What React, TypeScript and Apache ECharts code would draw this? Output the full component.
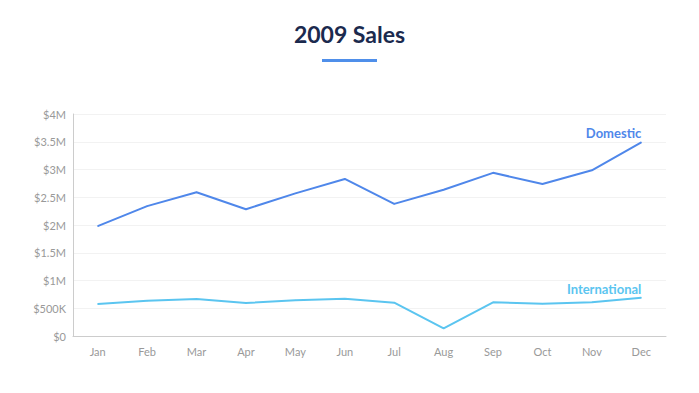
import React, { useEffect, useRef } from "react";
import * as echarts from "echarts";

const months = ["Jan", "Feb", "Mar", "Apr", "May", "Jun", "Jul", "Aug", "Sep", "Oct", "Nov", "Dec"];
const domestic = [1980000, 2340000, 2590000, 2285000, 2570000, 2830000, 2380000, 2635000, 2940000, 2740000, 2985000, 3490000];
const international = [577000, 636000, 667000, 594000, 642000, 673000, 600000, 138000, 607000, 583000, 607000, 690000];
const seriesNames = ["Domestic", "International"];
const seriesColors = ["#4f87ea", "#5bc5f0"];

function fmt(v: number): string {
  if (v === 0) return "$0";
  if (v >= 1000000) return "$" + v / 1000000 + "M";
  return "$" + v / 1000 + "K";
}

function lastLabeled(values: number[], name: string, color: string) {
  return values.map((v, i) =>
    i === values.length - 1
      ? {
          value: v,
          label: {
            show: true,
            position: "top",
            align: "right",
            distance: 2,
            formatter: name,
            color,
            fontFamily: "Lato",
            fontWeight: "bold",
            fontSize: 13,
          },
        }
      : v
  );
}

export default function App() {
  const ref = useRef<HTMLDivElement>(null);
  useEffect(() => {
    if (!ref.current) return;
    const chart = echarts.init(ref.current, null, { renderer: "svg" });
    chart.setOption({
      animation: false,
      backgroundColor: "#ffffff",
      title: {
        text: "2009 Sales",
        left: "center",
        top: 17,
        textStyle: { fontFamily: "Lato", fontSize: 23, fontWeight: "bold", color: "#1b2a4e" },
      },
      graphic: [
        { type: "rect", shape: { x: 322, y: 59, width: 55, height: 3 }, style: { fill: "#4f8fea" } },
      ],
      grid: { left: 73, right: 33, top: 114, bottom: 57, containLabel: false },
      xAxis: {
        type: "category",
        data: months,
        boundaryGap: true,
        axisLine: { lineStyle: { color: "#cccccc" } },
        axisTick: { show: false },
        axisLabel: { color: "#999999", fontFamily: "Lato", fontSize: 11, margin: 10 },
      },
      yAxis: {
        type: "value",
        min: 0,
        max: 4000000,
        interval: 500000,
        axisLine: { show: true, lineStyle: { color: "#cccccc" } },
        axisTick: { show: false },
        splitLine: { lineStyle: { color: "#f2f2f2" } },
        axisLabel: { color: "#999999", fontFamily: "Lato", fontSize: 11, margin: 7, formatter: fmt },
      },
      series: [
        {
          name: seriesNames[0],
          type: "line",
          data: lastLabeled(domestic, seriesNames[0], seriesColors[0]),
          symbol: "circle",
          symbolSize: 1,
          showSymbol: true,
          showAllSymbol: true,
          lineStyle: { color: seriesColors[0], width: 2 },
          itemStyle: { color: seriesColors[0] },
        },
        {
          name: seriesNames[1],
          type: "line",
          data: lastLabeled(international, seriesNames[1], seriesColors[1]),
          symbol: "circle",
          symbolSize: 1,
          showSymbol: true,
          showAllSymbol: true,
          lineStyle: { color: seriesColors[1], width: 2 },
          itemStyle: { color: seriesColors[1] },
        },
      ],
    });
    return () => chart.dispose();
  }, []);
  return <div ref={ref} style={{ position: "fixed", left: 0, top: 0, width: 699, height: 393 }} />;
}
